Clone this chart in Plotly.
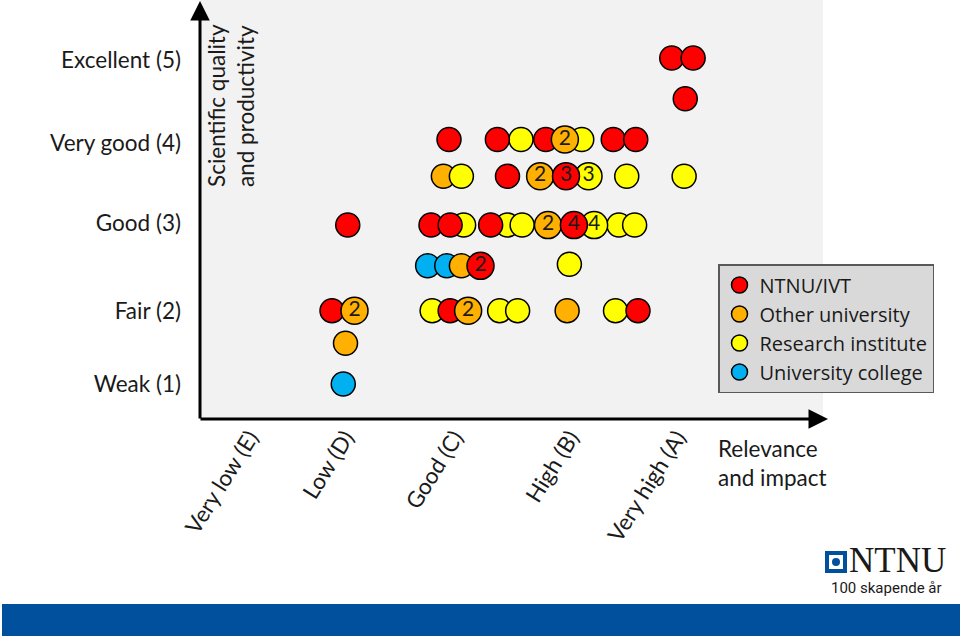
import plotly.graph_objects as go

# ---------------- data ----------------
x_tick_labels = ["Very low (E)", "Low (D)", "Good (C)", "High (B)", "Very high (A)"]
x_tick_vals = [1.15, 2.0, 2.97, 4.0, 4.95]
y_tick_labels = ["Weak (1)", "Fair (2)", "Good (3)", "Very good (4)", "Excellent (5)"]
y_tick_vals = [1.0, 1.9, 2.97, 3.95, 4.98]

# plain circles (one project each)
red_x = [4.90, 5.09, 5.02, 2.92, 3.35, 3.78, 4.38, 4.58, 3.44, 2.02, 2.76, 2.93, 3.29, 1.88, 2.93, 4.60]
red_y = [5.0, 5.0, 4.5, 4.0, 4.0, 4.0, 4.0, 4.0, 3.55, 2.95, 2.95, 2.95, 2.95, 1.9, 1.9, 1.9]
orange_x = [2.87, 3.03, 3.97, 2.00]
orange_y = [3.55, 2.45, 1.9, 1.5]
yellow_x = [3.56, 4.10, 3.03, 4.50, 5.01, 3.05, 3.44, 3.57, 4.43, 4.57, 3.99, 2.77, 3.37, 3.53, 4.40]
yellow_y = [4.0, 4.0, 3.55, 3.55, 3.55, 2.95, 2.95, 2.95, 2.95, 2.95, 2.47, 1.9, 1.9, 1.9, 1.9]
blue_x = [2.73, 2.90, 1.98]
blue_y = [2.45, 2.45, 1.0]

# numbered circles (several projects)
red_n_x = [3.96, 4.03, 3.20]
red_n_y = [3.55, 2.95, 2.45]
red_n = ["3", "4", "2"]
orange_n_x = [3.95, 3.73, 3.80, 2.08, 3.09]
orange_n_y = [4.0, 3.55, 2.95, 1.9, 1.9]
orange_n = ["2", "2", "2", "2", "2"]
yellow_n_x = [4.16, 4.21]
yellow_n_y = [3.55, 2.95]
yellow_n = ["3", "4"]

names = ["NTNU/IVT", "Other university", "Research institute", "University college"]
colors = ["#FF0000", "#FFB000", "#FFFF00", "#00B0F0"]

FONT = "Lato, 'Open Sans', sans-serif"
TXT = "#1a1a1a"
FS = 22.5

# ---------------- layout geometry (pixels) ----------------
W, H = 960, 636
L, R, T, B = 200, 823, 0, 419   # plot area in pixels


def px(xp):
    return (xp - L) / (R - L)


def py(yp):
    return (B - yp) / (B - T)


fig = go.Figure()

outline = dict(color="black", width=1.5)


def plain(xs, ys, i, rank):
    fig.add_trace(go.Scatter(
        x=xs, y=ys, mode="markers", name=names[i], legendrank=rank,
        marker=dict(size=24, color=colors[i], line=outline),
        hoverinfo="skip"))


def numbered(xs, ys, labels, i):
    fig.add_trace(go.Scatter(
        x=xs, y=ys, mode="markers+text", text=labels, showlegend=False,
        textposition="middle center",
        textfont=dict(family=FONT, size=21, color=TXT),
        marker=dict(size=27, color=colors[i], line=outline),
        hoverinfo="skip"))


plain(blue_x, blue_y, 3, 4)
plain(orange_x, orange_y, 1, 2)
plain(yellow_x, yellow_y, 2, 3)
plain(red_x, red_y, 0, 1)
numbered(orange_n_x, orange_n_y, orange_n, 1)
numbered(yellow_n_x, yellow_n_y, yellow_n, 2)
numbered(red_n_x, red_n_y, red_n, 0)

# data coordinate ranges matching the pixel frame
x_range = [1 + (L - 233) / 112.5, 1 + (R - 233) / 112.5]
y_range = [1 + (384 - B) / 81.5, 1 + (384 - T) / 81.5]

fig.update_xaxes(range=x_range, tickvals=x_tick_vals, ticktext=x_tick_labels,
                 tickangle=-58, showgrid=False, zeroline=False, showline=False,
                 ticks="", tickfont=dict(family=FONT, size=FS, color=TXT))
fig.update_yaxes(range=y_range, tickvals=y_tick_vals, ticktext=y_tick_labels,
                 showgrid=False, zeroline=False, showline=False, ticks="",
                 ticklabelstandoff=18,
                 tickfont=dict(family=FONT, size=FS, color=TXT))

shapes = [
    # blue footer band
    dict(type="rect", xref="paper", yref="paper", x0=px(2), x1=px(962),
         y0=py(638), y1=py(604), fillcolor="#00509E", line=dict(width=0), layer="below"),
    # NTNU logo
    dict(type="rect", xref="paper", yref="paper", x0=px(825), x1=px(847),
         y0=py(573), y1=py(551), fillcolor="#00509E", line=dict(width=0)),
    dict(type="rect", xref="paper", yref="paper", x0=px(829), x1=px(843),
         y0=py(569), y1=py(555), fillcolor="white", line=dict(width=0)),
    dict(type="circle", xref="paper", yref="paper", x0=px(832), x1=px(840),
         y0=py(566), y1=py(558), fillcolor="#00509E", line=dict(width=0)),
]

annotations = [
    # y axis arrow
    dict(xref="paper", yref="paper", x=0, y=py(0), ax=0, ay=B + 1,
         axref="pixel", ayref="pixel", text="", showarrow=True,
         arrowhead=2, arrowsize=1.3, arrowwidth=3, arrowcolor="black"),
    # x axis arrow
    dict(xref="paper", yref="paper", x=px(828), y=0, ax=-(828 - L + 1), ay=0,
         axref="pixel", ayref="pixel", text="", showarrow=True,
         arrowhead=2, arrowsize=1.3, arrowwidth=3, arrowcolor="black"),
    # y title
    dict(xref="paper", yref="paper", x=px(231), y=py(106), text="Scientific quality<br>and productivity",
         textangle=-90, align="left", showarrow=False, xanchor="center", yanchor="middle",
         font=dict(family=FONT, size=FS, color=TXT)),
    # x title
    dict(xref="paper", yref="paper", x=px(716), y=py(433), text="Relevance<br>and impact",
         align="left", showarrow=False, xanchor="left", yanchor="top",
         font=dict(family=FONT, size=FS, color=TXT)),
    # logo text
    dict(xref="paper", yref="paper", x=px(847), y=py(560), text="NTNU",
         showarrow=False, xanchor="left", yanchor="middle",
         font=dict(family="'Liberation Serif', 'DejaVu Serif', serif", size=35, color=TXT)),
    dict(xref="paper", yref="paper", x=px(944), y=py(588), text="100 skapende år",
         showarrow=False, xanchor="right", yanchor="middle",
         font=dict(family="Roboto, 'Liberation Sans', sans-serif", size=15, color=TXT)),
]

fig.update_layout(
    width=W, height=H,
    margin=dict(l=L, r=W - R, t=T, b=H - B),
    paper_bgcolor="white", plot_bgcolor="#F2F2F2",
    shapes=shapes, annotations=annotations,
    legend=dict(x=px(718), y=py(264), xanchor="left", yanchor="top",
                bgcolor="#D9D9D9", bordercolor="#595959", borderwidth=1.5,
                font=dict(family="'Open Sans', Lato, sans-serif", size=20, color=TXT),
                itemsizing="trace", tracegroupgap=0),
    font=dict(family=FONT, color=TXT),
)

fig.write_html("out.html", config={"displayModeBar": False},
               post_script="document.body.style.margin='0px';")
